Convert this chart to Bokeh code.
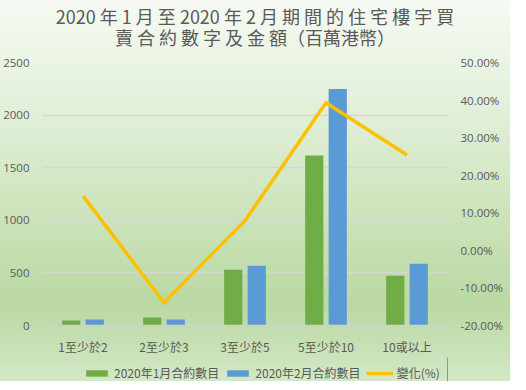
from bokeh.plotting import figure
from bokeh.layouts import column
from bokeh.models import (Range1d, LinearAxis, FactorRange, Legend, LegendItem, Div,
                          NumeralTickFormatter, FixedTicker, ColumnDataSource, InlineStyleSheet)
from bokeh.transform import dodge
from bokeh.embed import file_html
from bokeh.resources import INLINE

categories = ["1至少於2", "2至少於3", "3至少於5", "5至少於10", "10或以上"]
jan_counts = [47, 75, 531, 1616, 474]
feb_counts = [58, 58, 569, 2248, 588]
change_pct = [0.145, -0.139, 0.079, 0.393, 0.254]
series_names = ["2020年1月合約數目", "2020年2月合約數目", "變化(%)"]
title_lines = ["2020 年 1 月 至 2020 年 2 月 期 間 的 住 宅 樓 宇 買",
               "賣 合 約 數 字 及 金 額（百萬港幣）"]

left_ticks = [0, 500, 1000, 1500, 2000, 2500]
right_ticks = [-0.2, -0.1, 0.0, 0.1, 0.2, 0.3, 0.4, 0.5]

TXT = "#595959"
FONT = "Noto Sans CJK TC"
GREEN, BLUE, GOLD = "#70ad47", "#5b9bd5", "#ffc000"

src = ColumnDataSource(dict(cat=categories, jan=jan_counts, feb=feb_counts, chg=change_pct))

# ---- title (HTML) ----
inner = ("<div style=\"font-family:'Noto Sans CJK TC';font-size:18px;line-height:21px;"
         "color:%s;text-align:center;width:510px;height:53px;box-sizing:border-box;"
         "padding-top:6px;margin:0;overflow:hidden\">%s</div>"
         % (TXT, "<br>".join(title_lines)))
title = Div(text=inner, width=510, height=53,
            styles={"height": "53px", "overflow": "hidden", "margin": "0", "padding": "0"})

# ---- main chart ----
p = figure(width=510, height=304, x_range=FactorRange(*categories, range_padding=0),
           y_range=Range1d(0, 2500), output_backend="svg", toolbar_location=None,
           min_border_left=35, min_border_right=63, min_border_top=9, min_border_bottom=26)
p.extra_y_ranges = {"pct": Range1d(-0.2, 0.5)}
p.background_fill_alpha = 0
p.border_fill_alpha = 0
p.outline_line_color = None

p.vbar(x=dodge("cat", -0.145, range=p.x_range), top="jan", width=0.225, source=src,
       color=GREEN, line_color=None)
p.vbar(x=dodge("cat", 0.145, range=p.x_range), top="feb", width=0.225, source=src,
       color=BLUE, line_color=None)
p.line(x="cat", y="chg", source=src, y_range_name="pct", line_color=GOLD,
       line_width=3.5, line_join="round")

ax = p.xaxis[0]
ax.axis_line_color = "#d0d0d0"
ax.axis_line_width = 1.5
ax.major_tick_line_color = None
ax.minor_tick_line_color = None
ax.major_label_text_color = TXT
ax.major_label_text_font = FONT
ax.major_label_text_font_size = "12px"
ax.major_label_standoff = 6

ly = p.yaxis[0]
ly.ticker = FixedTicker(ticks=left_ticks)
ly.axis_line_color = None
ly.major_tick_line_color = None
ly.minor_tick_line_color = None
ly.major_label_text_color = TXT
ly.major_label_text_font = "Open Sans"
ly.major_label_text_font_size = "11.5px"
ly.major_label_standoff = 7

ry = LinearAxis(y_range_name="pct", ticker=FixedTicker(ticks=right_ticks),
                formatter=NumeralTickFormatter(format="0.00%"))
ry.axis_line_color = None
ry.major_tick_line_color = None
ry.minor_tick_line_color = None
ry.major_label_text_color = TXT
ry.major_label_text_font = "Open Sans"
ry.major_label_text_font_size = "11.5px"
ry.major_label_standoff = 7
p.add_layout(ry, "right")

p.xgrid.grid_line_color = None
p.ygrid.ticker = FixedTicker(ticks=left_ticks)
p.ygrid.grid_line_color = "#d6d6d6"
p.ygrid.grid_line_width = 1.5

# ---- legend strip (its renderers fall outside the strip's ranges; only the legend shows) ----
lf = figure(width=510, height=24, x_range=Range1d(0, 1), y_range=Range1d(0, 1),
            output_backend="svg", toolbar_location=None, min_border=0,
            min_border_left=35, min_border_right=63,
            x_axis_location=None, y_axis_location=None)
lf.grid.visible = False
lf.outline_line_color = None
lf.background_fill_alpha = 0
lf.border_fill_alpha = 0
g1 = lf.vbar(x="jan", top="jan", width=0.1, source=src, color=GREEN, line_color=None)
g2 = lf.vbar(x="feb", top="feb", width=0.1, source=src, color=BLUE, line_color=None)
g3 = lf.line(x="jan", y="jan", source=src, line_color=GOLD, line_width=3.5)
legend = Legend(items=[LegendItem(label=series_names[0], renderers=[g1]),
                       LegendItem(label=series_names[1], renderers=[g2]),
                       LegendItem(label=series_names[2], renderers=[g3])],
                orientation="horizontal", location=(41, 0),
                background_fill_alpha=0, border_line_color=None,
                label_text_font=FONT, label_text_font_size="12px", label_text_color=TXT,
                glyph_width=27, glyph_height=8, label_standoff=4, spacing=5,
                padding=2, margin=0)
lf.add_layout(legend, "center")

page = column(title, p, lf, spacing=0, width=510, height=381)
page.stylesheets = [InlineStyleSheet(css=":host { background: linear-gradient(to bottom, #f6faf3 0%, #e1efd8 30%, #cde4bc 55%, #bad8a3 80%, #c6e0b4 90%, #d3e8c6 100%); }")]

open("out.html", "w").write(file_html(page, INLINE))
